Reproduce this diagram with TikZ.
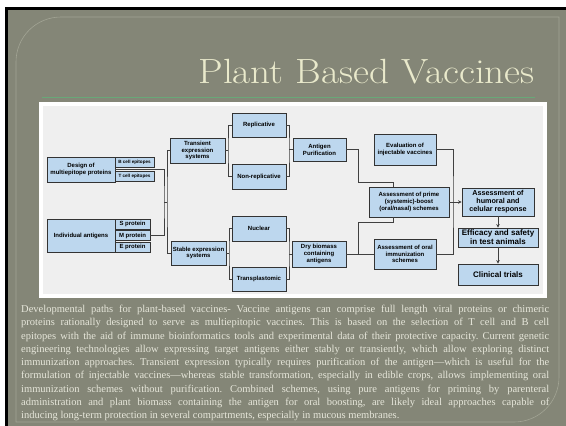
\documentclass[tikz,border=0pt]{standalone}
\usepackage{fontspec}
\newfontfamily\capfont{Liberation Serif}
\newfontfamily\boxfont{Liberation Sans}
\usepackage{tikz}
\usetikzlibrary{positioning, calc, arrows.meta}
\definecolor{sfondo}{HTML}{848677}
\definecolor{cornice}{HTML}{A2A494}
\definecolor{titolo}{HTML}{E9E9CB}
\definecolor{riga}{HTML}{68A878}
\definecolor{pannello}{HTML}{EFEFEF}
\definecolor{azzurro}{HTML}{BDD7EE}
\definecolor{testo}{HTML}{E6E6DA}
\frenchspacing

\begin{document}
\begin{tikzpicture}[x=1pt, y=-1pt,
    box/.style={draw=black!80, line width=0.9pt, fill=azzurro, inner sep=0pt, align=center,
        font=\boxfont\bfseries\fontsize{6}{6.8}\selectfont},
    conn/.style={draw=black!75, line width=0.7pt},
    arr/.style={conn, -{Stealth[length=3.5pt, width=3.5pt]}}]
    \useasboundingbox (0,0) rectangle (566,426);
    %disegno sfondo
        \fill[white] (0,0) rectangle (566,426);
        \fill[black] (5,7) rectangle (566,10);
        \fill[black] (5,7) rectangle (8,426);
        \fill[sfondo] (8,10) rectangle (566,426);
        \draw[cornice, line width=0.6pt] (16,422) -- (16,62) .. controls (16,37) and (36,17) .. (61,17)
            -- (559,17) -- (559,377) .. controls (559,402) and (539,422) .. (514,422) -- cycle;
    %titolo
        \node[anchor=base east, inner sep=0pt, text=titolo, font=\fontsize{35}{40}\selectfont] (title) at (535,83) {\scalebox{1.12}[1]{Plant Based Vaccines}};
        \draw[riga, line width=0.9pt] (42,97) -- (535,97);
    %pannello
        \fill[white] (39,102) rectangle (547,298);
        \fill[pannello] (43,106) rectangle (543,294);
    %riquadri a sinistra
        \node[box, minimum width=68, minimum height=25] (design) at (81,169.5) {Design of\\multiepitope proteins};
        \node[box, minimum width=68, minimum height=33] (indiv) at (81,235.5) {Individual antigens};
        \node[box, minimum width=39, minimum height=10, font=\boxfont\bfseries\fontsize{4.6}{5}\selectfont] (bcell) at (134.5,162) {B cell epitopes};
        \node[box, minimum width=39, minimum height=10, font=\boxfont\bfseries\fontsize{4.6}{5}\selectfont] (tcell) at (134.5,176) {T cell epitopes};
        \node[box, minimum width=35, minimum height=10] (sprot) at (132.5,224) {S protein};
        \node[box, minimum width=35, minimum height=10] (mprot) at (132.5,235.5) {M protein};
        \node[box, minimum width=35, minimum height=10] (eprot) at (132.5,247) {E protein};
    %sistemi di espressione
        \node[box, minimum width=55, minimum height=25] (transient) at (197.5,150.5) {Transient\\expression\\systems};
        \node[box, minimum width=55, minimum height=24] (stable) at (198.5,253) {Stable expression\\systems};
        \node[box, minimum width=54, minimum height=24] (rep) at (259,125) {Replicative};
        \node[box, minimum width=54, minimum height=25] (nonrep) at (259,176.5) {Non-replicative};
        \node[box, minimum width=54, minimum height=25] (nuclear) at (259,228.5) {Nuclear};
        \node[box, minimum width=54, minimum height=24] (transpl) at (259,279) {Transplastomic};
        \node[box, minimum width=53, minimum height=23] (purif) at (319.5,149.5) {Antigen\\Purification};
        \node[box, minimum width=54, minimum height=26] (drybio) at (319,254) {Dry biomass\\containing\\antigens};
    %schemi di immunizzazione
        \node[box, minimum width=62, minimum height=31] (evalu) at (405,149.5) {Evaluation of\\injectable vaccines};
        \node[box, minimum width=80, minimum height=30] (prime) at (409,202) {Assessment of prime\\(systemic)-boost\\(oral/nasal) schemes};
        \node[box, minimum width=62, minimum height=30] (oral) at (405,254) {Assessment of oral\\immunization\\schemes};
        \node[box, minimum width=72, minimum height=28, font=\boxfont\bfseries\fontsize{7.2}{8}\selectfont] (humoral) at (498,202) {Assessment of\\humoral and\\celular response};
        \node[box, minimum width=80, minimum height=19, font=\boxfont\bfseries\fontsize{8}{9}\selectfont] (effic) at (498,237.5) {Efficacy and safety\\in test animals};
        \node[box, minimum width=80, minimum height=21, font=\boxfont\bfseries\fontsize{8}{9}\selectfont] (clinical) at (498,274.5) {Clinical trials};
    %punti di raccordo
        \coordinate (j1) at (164,202);
        \coordinate (j2) at (167,202);
        \coordinate (j3) at (228,150.5);
        \coordinate (j4) at (289,149.5);
        \coordinate (j5) at (229,253);
        \coordinate (j6) at (289,254);
        \coordinate (k1) at (358,182);
        \coordinate (k2) at (393,187);
        \coordinate (k3) at (358,222);
        \coordinate (k4) at (393,217);
        \coordinate (k5) at (453,202);
    %collegamenti
        \draw[conn] (design.east) -| (j1) |- (mprot.east);
        \draw[conn] (j1) -- (j2);
        \draw[conn] (transient.west) -| (j2) |- (stable.west);
        \draw[conn] (transient.east) -- (j3);
        \draw[conn] (rep.west) -| (j3) |- (nonrep.west);
        \draw[conn] (rep.east) -| (j4) |- (nonrep.east);
        \draw[conn] (j4) -- (purif.west);
        \draw[conn] (stable.east) -- (j5);
        \draw[conn] (nuclear.west) -| (j5) |- (transpl.west);
        \draw[conn] (nuclear.east) -| (j6) |- (transpl.east);
        \draw[conn] (j6) -- (drybio.west);
        \draw[conn] (purif.east) -| (k1) -| (k2);
        \draw[conn] (drybio.east) -- (oral.west);
        \draw[conn] (drybio.east) -| (k3) -| (k4);
        \draw[conn] (evalu.east) -| (k5) |- (oral.east);
        \draw[arr] (prime.east) -- (humoral.west);
        \draw[arr] (humoral.south) -- (effic.north);
        \draw[arr] (effic.south) -- (clinical.north);
    %didascalia
        \node[anchor=north west, inner sep=0pt, text width=528pt, align=justify, text=testo,
            font=\capfont\fontsize{10.5}{13.25}\selectfont] (caption) at (21,305) {%
            Developmental paths for plant-based vaccines- Vaccine antigens can comprise full length viral proteins or chimeric\linebreak
            proteins rationally designed to serve as multiepitopic vaccines. This is based on the selection of T cell and B cell\linebreak
            epitopes with the aid of immune bioinformatics tools and experimental data of their protective capacity. Current genetic\linebreak
            engineering technologies allow expressing target antigens either stably or transiently, which allow exploring distinct\linebreak
            immunization approaches. Transient expression typically requires purification of the antigen—which is useful for the\linebreak
            formulation of injectable vaccines—whereas stable transformation, especially in edible crops, allows implementing oral\linebreak
            immunization schemes without purification. Combined schemes, using pure antigens for priming by parenteral\linebreak
            administration and plant biomass containing the antigen for oral boosting, are likely ideal approaches capable of\linebreak
            inducing long-term protection in several compartments, especially in mucous membranes.};
\end{tikzpicture}
\end{document}
